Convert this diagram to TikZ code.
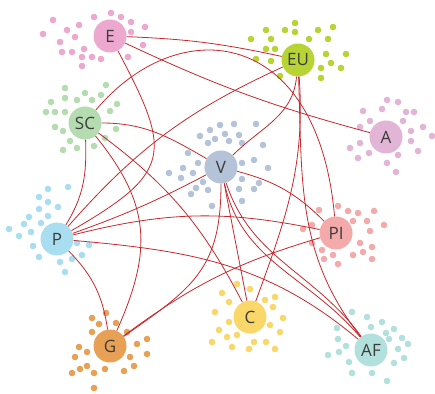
\documentclass[tikz,border=0pt]{standalone}
\usepackage{fontspec}
\setmainfont{Open Sans}
\definecolor{cE}{RGB}{236,168,206}
\definecolor{cSC}{RGB}{181,220,176}
\definecolor{cEU}{RGB}{183,212,52}
\definecolor{cA}{RGB}{226,181,214}
\definecolor{cV}{RGB}{181,195,216}
\definecolor{cP}{RGB}{168,222,240}
\definecolor{cPI}{RGB}{244,170,170}
\definecolor{cC}{RGB}{249,215,105}
\definecolor{cG}{RGB}{232,160,85}
\definecolor{cAF}{RGB}{178,224,220}
\definecolor{edgered}{RGB}{200,40,45}
\definecolor{txt}{RGB}{60,60,60}
\tikzset{
  hub/.style={circle, minimum size=33pt, inner sep=0pt, text=txt, font=\fontsize{17}{17}\selectfont},
  edge/.style={draw=edgered, line width=0.8pt},
}
\newcommand{\dotset}[2]{\foreach \x/\y in {#2} \fill[#1] (\x,\y) circle (3.3pt);}
\begin{document}
\begin{tikzpicture}[x=1pt,y=1pt]
\useasboundingbox (0,0) rectangle (435,393);
\fill[white] (0,0) rectangle (435,393);
\begin{scope}[shift={(0,393)},yscale=-1]
  \dotset{cE}{53/20,43/34,67/30,79/25,94/17,111/13,121/17,131/22,145/27,131/32,143/45,128/57,101/59,92/57,82/57,82/66,84/49,72/52,62/52,60/42,75/37}
  \dotset{cSC}{65/88,85/93,106/85,51/102,65/98,77/100,92/100,101/95,117/104,110/111,46/112,55/112,65/112,55/127,63/131,116/129,105/138,94/146,70/141,77/148,63/150}
  \dotset{cEU}{295/23,266/30,285/30,295/32,318/30,333/27,251/39,271/39,309/39,328/39,266/49,275/49,256/59,271/61,326/54,346/54,331/63,341/68,321/68,321/78,280/76}
  \dotset{cA}{387/100,398/102,363/111,382/109,406/112,414/112,370/121,403/121,360/127,423/127,411/131,432/136,350/148,360/143,411/141,418/151,369/153,358/158,398/155,387/163,396/172}
  \dotset{cV}{210/130,220/125,234/124,256/124,200/136,215/139,225/134,239/135,229/141,208/143,242/143,263/145,188/153,198/163,183/168,169/173,193/173,181/178,203/182,196/188,208/190,191/194,212/206,242/163,254/160,268/168,242/179,259/183,239/189,254/189,242/201}
  \dotset{cP}{48/189,68/187,39/197,48/202,58/207,39/209,48/216,29/217,24/224,41/223,9/229,31/232,19/236,77/243,89/245,33/246,82/255,72/259,39/257,60/262,65/272}
  \dotset{cPI}{338/206,319/210,348/211,358/213,374/211,353/221,367/221,312/225,303/229,384/225,370/231,312/243,360/243,372/247,322/250,333/255,353/255,363/252,372/259,324/259,338/264}
  \dotset{cC}{237/284,250/289,222/293,229/302,265/300,275/297,273/307,215/312,283/318,229/322,270/325,219/330,280/332,227/337,237/335,212/342,254/342,266/342,232/347,249/349,275/349}
  \dotset{cG}{106/313,92/318,99/324,116/323,92/332,127/332,137/344,147/339,79/347,87/352,75/357,130/357,147/354,87/366,80/369,72/373,94/373,105/369,124/371,134/366,94/388}
  \dotset{cAF}{352/312,367/317,382/322,371/327,337/328,394/329,386/333,338/339,402/338,389/339,408/344,346/346,398/349,339/352,328/355,404/358,349/362,394/363,352/373,372/373,387/381}
  \node[hub, fill=cE]  (E)  at (110,36)  {E};
  \node[hub, fill=cEU] (EU) at (298,60)  {EU};
  \node[hub, fill=cSC] (SC) at (85,123)  {SC};
  \node[hub, fill=cA]  (A)  at (386,137) {A};
  \node[hub, fill=cV]  (V)  at (221,167) {V};
  \node[hub, fill=cP]  (P)  at (57,239)  {P};
  \node[hub, fill=cPI] (PI) at (336,233) {PI};
  \node[hub, fill=cC]  (C)  at (250,317) {C};
  \node[hub, fill=cG]  (G)  at (110,346) {G};
  \node[hub, fill=cAF] (AF) at (371,350) {AF};
\end{scope}
\draw[edge] (E) to[bend left=5] (EU);
\draw[edge] (E) to[bend right=5] (A);
\draw[edge] (E) to[out=-62,in=30,looseness=1.6] (P);
\draw[edge] (EU) to[bend right=12] (P);
\draw[edge] (EU) to[out=-95,in=45] (V);
\draw[edge] (EU) to[out=-86,in=70] (C);
\draw[edge] (EU) to[out=-88,in=128] (AF);
\draw[edge] (SC) to[out=50,in=95,out distance=130pt,in distance=190pt] (PI);
\draw[edge] (SC) to[out=0,in=150] (V);
\draw[edge] (SC) to[bend left=13] (C);
\draw[edge] (SC) to[out=-51,in=66,looseness=1.15] (G);
\draw[edge] (SC) to[out=-88,in=58] (P);
\draw[edge] (P) to[bend right=4] (V);
\draw[edge] (P) to[bend left=13] (PI);
\draw[edge] (P) to[out=-5,in=140] (AF);
\draw[edge] (P) to[bend left=18] (G);
\draw[edge] (V) to[out=-90,in=35,looseness=1.2] (G);
\draw[edge] (V) -- (C);
\draw[edge] (V) to[out=-78,in=130] (AF);
\draw[edge] (V) to[out=-72,in=126] (AF);
\draw[edge] (V) to[bend left=15] (PI);
\draw[edge] (G) to[bend left=10] (PI);
\end{tikzpicture}
\end{document}
